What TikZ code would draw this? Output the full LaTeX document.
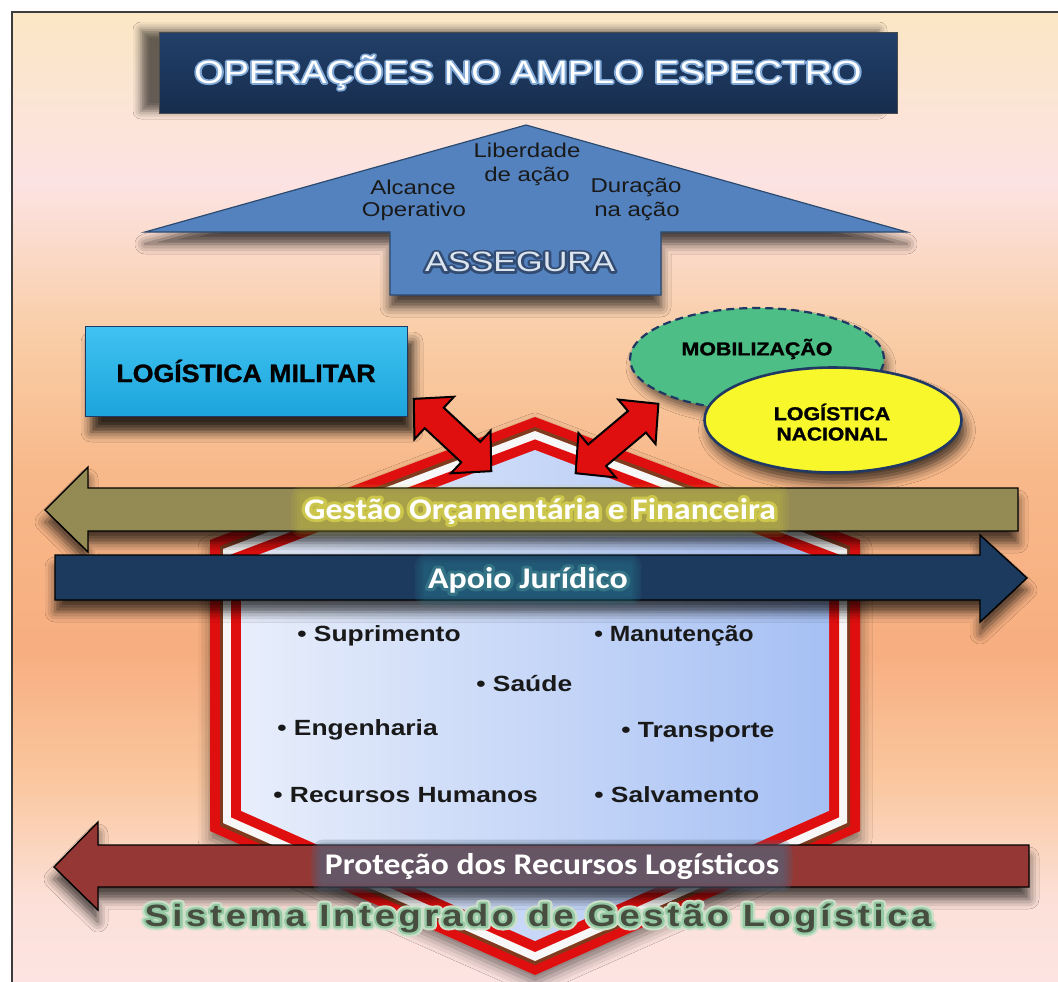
\documentclass[tikz,border=0pt]{standalone}
\usepackage{fontspec}
\usepackage{graphicx}
\setmainfont{Liberation Sans}
\newfontfamily\calib{Carlito}
\newfontfamily\heavy{Liberation Sans Bold}[FakeBold=1.2]
\newfontfamily\sistfont{Liberation Sans}[LetterSpace=10]
\usetikzlibrary{calc,shapes.geometric,shadows.blur}

\definecolor{bgA}{HTML}{FBE6C5}
\definecolor{bgB}{HTML}{FCE3E3}
\definecolor{bgC}{HTML}{F9CEA8}
\definecolor{bgD}{HTML}{F8B98A}
\definecolor{bgE}{HTML}{F7AE80}
\definecolor{bgF}{HTML}{FAC79F}
\definecolor{bgG}{HTML}{FCE0D8}
\definecolor{bgH}{HTML}{FDE4E2}
\definecolor{framecol}{HTML}{3C3C3C}
\definecolor{navy}{HTML}{172D4D}
\definecolor{navyTop}{HTML}{22406A}
\definecolor{arrowblue}{HTML}{5482BE}
\definecolor{arrowblueline}{HTML}{2B4A70}
\definecolor{cyanTop}{HTML}{41C3F2}
\definecolor{cyanBot}{HTML}{1CA4DB}
\definecolor{mobgreen}{HTML}{4DBE85}
\definecolor{ellline}{HTML}{1F3864}
\definecolor{lnyellow}{HTML}{F7F72C}
\definecolor{redA}{HTML}{E00F0F}
\definecolor{shL}{HTML}{E8EEFB}
\definecolor{shR}{HTML}{A6C0F4}
\definecolor{olive}{HTML}{948A54}
\definecolor{apoio}{HTML}{1C3A5E}
\definecolor{protec}{HTML}{953735}
\definecolor{assegura}{HTML}{DCE4EE}
\definecolor{sist}{HTML}{474E40}
\definecolor{gestglow}{HTML}{D2CB3A}
\definecolor{apoioglow}{HTML}{2E8A9A}
\definecolor{protglow}{HTML}{52657C}

\pgfdeclareverticalshading{bgshade}{100bp}{color(0bp)=(bgH); color(25.1bp)=(bgH); color(29.3bp)=(bgG); color(35.4bp)=(bgF); color(42.1bp)=(bgE); color(51.4bp)=(bgD); color(58.6bp)=(bgC); color(66.3bp)=(bgB); color(74.8bp)=(bgA); color(100bp)=(bgA)}
\pgfdeclarehorizontalshading{shieldin}{100bp}{color(0bp)=(shL); color(25bp)=(shL); color(75bp)=(shR); color(100bp)=(shR)}

\pgfdeclarelayer{front}
\pgfsetlayers{main,front}

\newcommand{\xs}[2]{\scalebox{#1}[1]{#2}}
% stroked copy of a text under the text itself (letter-shaped glow)
\newcommand{\sglow}[3]{\rlap{\special{pdf:literal 1 Tr #1 w 1 j 1 J #2 RG}#3\special{pdf:literal 0 Tr}}}
\newcommand{\halobox}[3]{% node, colour, opacity
  \foreach \r in {1.5,3,4.5,6}{%
    \fill[#2, opacity=#3, rounded corners=\r pt]
      ($(#1.south west)+(-\r pt,-\r pt)$) rectangle ($(#1.north east)+(\r pt,\r pt)$);}}

\begin{document}
\begin{tikzpicture}[x=0.5pt,y=-0.5pt,
  blockarrow/.style={draw=black, line width=0.7pt, line join=miter},
  armtext/.style={font=\fontsize{10}{12}\selectfont, text=black!90, inner sep=0pt},
  itemtext/.style={font=\bfseries\fontsize{11}{13}\selectfont, text=black!90, inner sep=0pt, anchor=base west},
  heavytext/.style={font=\heavy\fontsize{9.3}{11}\selectfont, text=black, inner sep=0pt},
  bartext/.style={font=\calib\bfseries\fontsize{15}{18}\selectfont, text=white, inner sep=0.5pt},
  softshadow/.style={blur shadow={shadow xshift=#1, shadow yshift=-6pt, shadow blur radius=5pt, shadow opacity=70}},
]
\useasboundingbox (0,0) rectangle (1058,981);
\fill[white] (0,0) rectangle (1058,981);
\path[shading=bgshade] (12,12) rectangle (1060,983);
\draw[framecol, line width=1pt] (1060,12) -- (12,12) -- (12,983);

% title
\node[draw=black!70, line width=0.4pt, top color=navyTop, bottom color=navy,
      minimum width=369pt, minimum height=40.5pt, inner sep=0pt,
      blur shadow={shadow xshift=-9pt, shadow yshift=1pt, shadow blur radius=4pt, shadow opacity=60},
      font=\fontsize{16}{18}\selectfont, text=white] (title) at (528,72.5)
      {\xs{1.18}{\sglow{1.6}{0.5 0.66 0.84}{OPERAÇÕES NO AMPLO ESPECTRO}OPERAÇÕES NO AMPLO ESPECTRO}};

% up arrow
\draw[arrowblueline, line width=0.6pt, fill=arrowblue, softshadow=0pt]
  (526,125) -- (907,232) -- (661,232) -- (661,295) -- (390,295) -- (390,232) -- (145,232) -- cycle;
\node[armtext] (lib1) at (527,150) {\xs{1.2}{Liberdade}};
\node[armtext] (lib2) at (527,176) {\xs{1.2}{de ação}};
\node[armtext] (alc1) at (413,187) {\xs{1.2}{Alcance}};
\node[armtext] (alc2) at (414,211) {\xs{1.2}{Operativo}};
\node[armtext] (dur1) at (636,187) {\xs{1.2}{Duração}};
\node[armtext] (dur2) at (637,211) {\xs{1.2}{na ação}};
\node[font=\fontsize{14}{16}\selectfont, text=assegura, inner sep=0pt] (ass) at (520,262)
  {\xs{1.22}{\sglow{2.2}{0.2 0.3 0.45}{ASSEGURA}ASSEGURA}};

% logistica militar
\node[draw=ellline, line width=0.5pt, top color=cyanTop, bottom color=cyanBot,
      minimum width=161pt, minimum height=45pt, inner sep=0pt,
      blur shadow={shadow xshift=3pt, shadow yshift=-8pt, shadow blur radius=5pt, shadow opacity=80},
      font=\heavy\fontsize{12.6}{14}\selectfont, text=black] (lm) at (246,371)
      {\xs{1.06}{LOGÍSTICA MILITAR}};

% ellipses
\node[ellipse, draw=ellline, line width=1.1pt, dash pattern=on 4pt off 2.5pt, fill=mobgreen,
      minimum width=127pt, minimum height=51pt, inner sep=0pt,
      blur shadow={shadow xshift=2pt, shadow yshift=-4pt, shadow blur radius=4pt, shadow opacity=55}] (mob) at (757,359) {};
\node[heavytext] (mobt) at (757,349) {\xs{1.15}{MOBILIZAÇÃO}};
\node[ellipse, draw=ellline, line width=1.3pt, fill=lnyellow,
      minimum width=128.5pt, minimum height=52.5pt, inner sep=0pt,
      blur shadow={shadow xshift=2pt, shadow yshift=-5pt, shadow blur radius=5pt, shadow opacity=70}] (ln) at (833,420) {};
\node[heavytext] (ln1) at (832,412) {\xs{1.15}{LOGÍSTICA}};
\node[heavytext] (ln2) at (832,434) {\xs{1.13}{NACIONAL}};

% shield
\fill[redA, blur shadow={shadow xshift=0pt, shadow yshift=-4pt, shadow blur radius=6pt, shadow opacity=50}]
  (535,417) -- (210,540) -- (210,831) -- (535,975) -- (860,831) -- (860,540) -- cycle;
\fill[black!45!brown, opacity=0.8] (535,427) -- (220,546) -- (220,826) -- (535,965) -- (850,826) -- (850,546) -- cycle;
\fill[white!94!gray] (535,431) -- (223,549) -- (223,823) -- (535,961) -- (847,823) -- (847,549) -- cycle;
\fill[redA] (535,439.4) -- (231,554.5) -- (231,817.3) -- (535,952) -- (839,817.3) -- (839,554.5) -- cycle;
\path[shading=shieldin] (535,450) -- (241,561.4) -- (241,810.8) -- (535,941) -- (829,810.8) -- (829,561.4) -- cycle;

% items
\node[itemtext] (i1) at (297,641) {\xs{1.2}{• Suprimento}};
\node[itemtext] (i2) at (594,641) {\xs{1.12}{• Manutenção}};
\node[itemtext] (i3) at (476,691) {\xs{1.2}{• Saúde}};
\node[itemtext] (i4) at (277,735) {\xs{1.2}{• Engenharia}};
\node[itemtext] (i5) at (621,737) {\xs{1.2}{• Transporte}};
\node[itemtext] (i6) at (273,802) {\xs{1.2}{• Recursos Humanos}};
\node[itemtext] (i7) at (594,802) {\xs{1.2}{• Salvamento}};

% red double arrows
\begin{scope}[shift={(452.5,435)}, rotate=-43]
  \draw[blockarrow, fill=redA, line width=1pt]
    (-53,0) -- (-25,29) -- (-25,14) -- (25,14) -- (25,29) -- (53,0) -- (25,-29) -- (25,-14) -- (-25,-14) -- (-25,-29) -- cycle;
\end{scope}
\begin{scope}[shift={(617,438.5)}, rotate=40]
  \draw[blockarrow, fill=redA, line width=1pt]
    (-54,0) -- (-26,29) -- (-26,14) -- (26,14) -- (26,29) -- (54,0) -- (26,-29) -- (26,-14) -- (-26,-14) -- (-26,-29) -- cycle;
\end{scope}

% bars
\draw[blockarrow, fill=olive, softshadow=0pt]
  (45,510) -- (88,467) -- (88,488) -- (1018,488) -- (1018,531) -- (88,531) -- (88,552) -- cycle;
\draw[blockarrow, fill=apoio, softshadow=0pt]
  (1027,578) -- (980,535) -- (980,555) -- (55,555) -- (55,600) -- (980,600) -- (980,622) -- cycle;
\draw[blockarrow, fill=protec, softshadow=0pt]
  (54,867) -- (98,822) -- (98,845) -- (1029,845) -- (1029,887) -- (98,887) -- (98,910) -- cycle;

\begin{pgfonlayer}{front}
\node[bartext] (gest) at (540,511)
  {\xs{1.12}{\sglow{3}{0.8 0.78 0.3}{Gestão Orçamentária e Financeira}Gestão Orçamentária e Financeira}};
\node[bartext] (apoiot) at (528,580)
  {\xs{1.13}{\sglow{3}{0.2 0.45 0.52}{Apoio Jurídico}Apoio Jurídico}};
\node[bartext] (prot) at (552,866) {\xs{1.12}{Proteção dos Recursos Logísticos}};
\node[font=\sistfont\bfseries\fontsize{15.4}{18}\selectfont, text=sist, inner sep=0.5pt]
  (sistema) at (538,918)
  {\xs{1.18}{\sglow{4.2}{0.8 0.88 0.79}{Sistema Integrado de Gestão Logística}\sglow{2.2}{0.58 0.79 0.64}{Sistema Integrado de Gestão Logística}Sistema Integrado de Gestão Logística}};
\end{pgfonlayer}

\halobox{gest}{gestglow}{0.1}
\halobox{apoiot}{apoioglow}{0.12}
\halobox{prot}{protglow}{0.25}
\end{tikzpicture}
\end{document}
